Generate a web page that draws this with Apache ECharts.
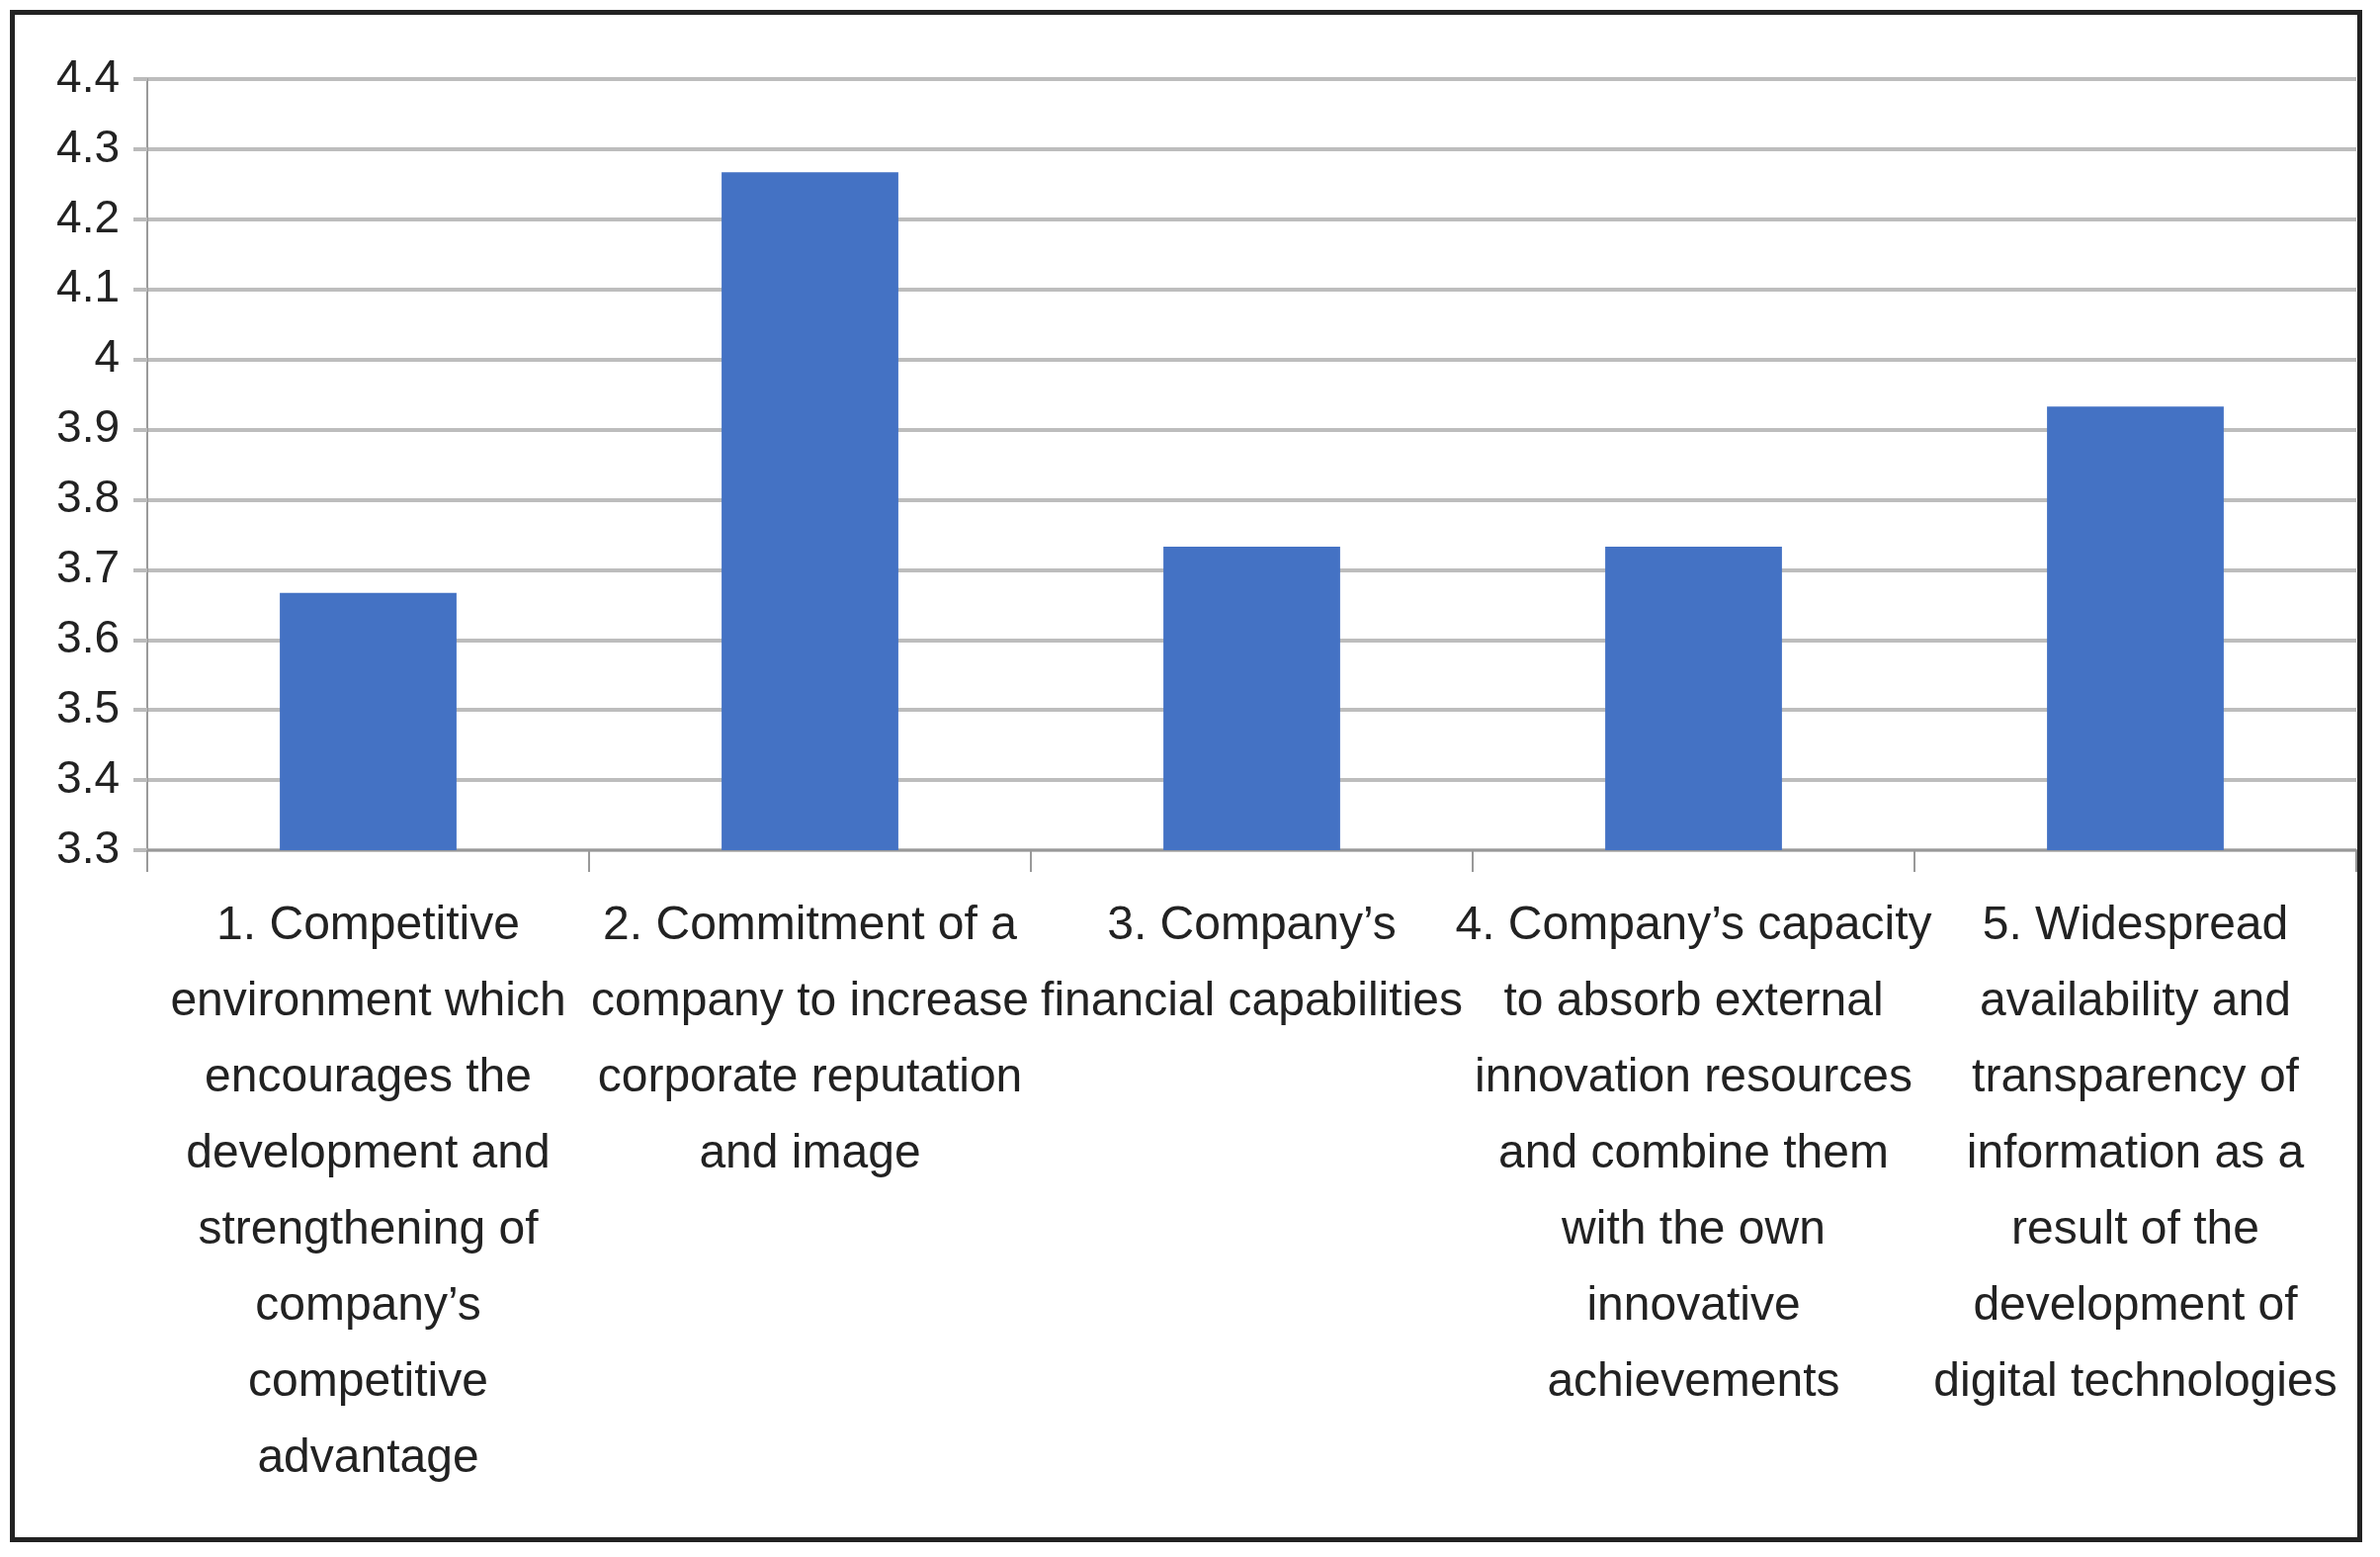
<!DOCTYPE html>
<html><head><meta charset="utf-8">
<script src="https://cdn.jsdelivr.net/npm/echarts@6/dist/echarts.min.js"></script>
<style>html,body{margin:0;padding:0;background:#fff}
#box{position:absolute;left:10px;top:10px;width:2380px;height:1550px;border:5px solid #222;box-sizing:border-box}
#chart{width:2408px;height:1575px}</style>
</head><body><div id="box"></div><div id="chart"></div>
<script>
const categories = [
  '1. Competitive\nenvironment which\nencourages the\ndevelopment and\nstrengthening of\ncompany\u2019s\ncompetitive\nadvantage',
  '2. Commitment of a\ncompany to increase\ncorporate reputation\nand image',
  '3. Company\u2019s\nfinancial capabilities',
  '4. Company\u2019s capacity\nto absorb external\ninnovation resources\nand combine them\nwith the own\ninnovative\nachievements',
  '5. Widespread\navailability and\ntransparency of\ninformation as a\nresult of the\ndevelopment of\ndigital technologies'
];
const values = [3.667, 4.267, 3.733, 3.733, 3.933];

const chart = echarts.init(document.getElementById('chart'));
const font = '"Liberation Sans Narrow", "Liberation Sans", sans-serif';
chart.setOption({
  animation: false,
  grid: {left: 149, right: 24, top: 80, bottom: 715},
  xAxis: {
    type: 'category',
    data: categories,
    axisLine: {lineStyle: {color: '#999', width: 2}},
    axisTick: {show: true, length: 22, lineStyle: {color: '#999', width: 2}},
    axisLabel: {interval: 0, margin: 38, fontFamily: font, fontSize: 48, lineHeight: 77, color: '#222'}
  },
  yAxis: {
    type: 'value',
    min: 3.3, max: 4.4, interval: 0.1,
    axisLine: {show: true, lineStyle: {color: '#999', width: 2}},
    axisTick: {show: true, length: 14, lineStyle: {color: '#bbb', width: 4}},
    splitLine: {lineStyle: {color: '#bdbdbd', width: 4}},
    axisLabel: {fontFamily: font, fontSize: 46, color: '#222', margin: 28,
      formatter: v => String(Math.round(v * 10) / 10)}
  },
  series: [{
    type: 'bar',
    data: values,
    barWidth: '40%',
    itemStyle: {color: '#4472c4'}
  }]
});
</script></body></html>
